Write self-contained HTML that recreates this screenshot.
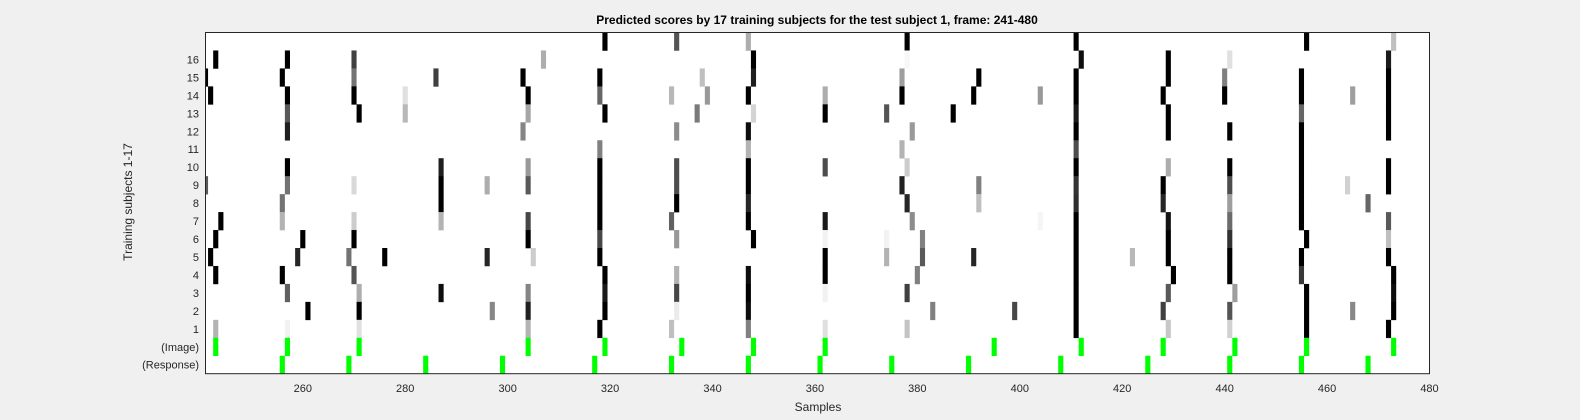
<!DOCTYPE html>
<html><head><meta charset="utf-8"><style>
body{margin:0;background:#f0f0f0;}
svg{display:block;font-family:"Liberation Sans",sans-serif;}
</style></head><body>
<svg id="chart" width="1580" height="420">
<rect width="1580" height="420" fill="#f0f0f0"/>
<text x="817" y="24" text-anchor="middle" font-size="12" font-weight="bold" fill="#000">Predicted scores by 17 training subjects for the test subject 1, frame: 241-480</text>
<rect x="205.5" y="32.5" width="1224" height="341.2" fill="#fff"/>
<g id="cells"></g>
<g id="axes"></g>
<rect x="205.5" y="32.5" width="1224" height="341.2" fill="none" stroke="#262626" stroke-width="1"/>
<text x="818" y="411" text-anchor="middle" font-size="12" fill="#262626">Samples</text>
<text transform="translate(132,202) rotate(-90)" text-anchor="middle" font-size="12" fill="#262626">Training subjects 1-17</text>
</svg>
<script>
const xTicks=[260,280,300,320,340,360,380,400,420,440,460,480];
const rowLabels=["1","2","3","4","5","6","7","8","9","10","11","12","13","14","15","16","(Image)","(Response)"];
// subject cells, one source line per subject row: row, sample, brightness (0=black,1=white)
const cellRows=[
17,17,17,17,17,17,17,
16,16,16,16,16,16,16,16,16,16,
15,15,15,15,15,15,15,15,15,15,15,15,15,15,15,
14,14,14,14,14,14,14,14,14,14,14,14,14,14,14,14,14,14,14,
13,13,13,13,13,13,13,13,13,13,13,13,13,13,
12,12,12,12,12,12,12,12,12,12,
11,11,11,11,11,
10,10,10,10,10,10,10,10,10,10,10,10,10,
9,9,9,9,9,9,9,9,9,9,9,9,9,9,9,9,9,
8,8,8,8,8,8,8,8,8,8,8,8,
7,7,7,7,7,7,7,7,7,7,7,7,7,7,7,7,
6,6,6,6,6,6,6,6,6,6,6,6,6,6,6,
5,5,5,5,5,5,5,5,5,5,5,5,5,5,5,5,5,
4,4,4,4,4,4,4,4,4,4,4,4,4,
3,3,3,3,3,3,3,3,3,3,3,3,3,3,
2,2,2,2,2,2,2,2,2,2,2,2,2,2,2,
1,1,1,1,1,1,1,1,1,1,1,1,1,1];
const cellSamples=[
319,333,347,378,411,456,473,
243,257,270,307,348,378,412,429,441,472,
241,256,270,286,303,318,338,348,377,392,411,429,440,455,472,
242,257,270,280,304,318,332,339,347,362,377,391,404,411,428,440,455,465,472,
257,271,280,304,319,337,348,362,374,387,411,429,455,472,
257,303,333,347,379,411,429,441,455,472,
318,347,377,411,455,
257,287,304,318,333,347,362,378,411,429,441,455,472,
241,257,270,287,296,304,318,333,347,377,392,411,428,441,455,464,472,
256,287,318,333,347,378,392,411,428,441,455,468,
244,256,270,287,304,318,332,347,362,379,404,411,429,441,455,472,
243,260,270,304,318,333,348,362,374,381,411,429,441,456,472,
242,259,269,276,296,305,318,362,374,381,391,411,422,429,441,455,472,
243,256,270,319,333,347,362,380,411,430,441,455,473,
257,271,287,304,319,333,347,362,378,411,429,442,456,473,
261,271,297,304,319,333,347,383,399,411,428,441,456,465,473,
243,257,271,304,318,332,347,362,378,411,429,441,456,472];
const cellValues=[
0,.33,.68,0,0,0,.75,
0,0,.25,.68,0,.97,.05,0,.88,.1,
0,0,.45,.25,0,0,.75,.12,.62,0,0,0,.5,0,0,
0,0,0,.88,0,.4,.72,.6,0,.68,0,0,.6,0,0,0,0,.62,0,
.35,0,.72,.65,0,.48,.83,0,.33,0,.1,0,.4,0,
.12,.52,.55,.05,.6,0,0,0,0,0,
.5,.7,.7,.3,0,
0,.12,.6,0,.3,0,.3,.8,0,.68,0,0,0,
.35,.45,.85,0,.68,.35,0,.3,0,.13,.5,.2,0,.3,0,.82,0,
.45,0,0,0,.15,.15,.75,.18,.15,.62,0,.4,
0,.7,.8,.7,.28,0,.38,0,.1,.55,.96,0,.08,.42,0,.35,
0,0,0,0,.28,.6,0,.95,.95,.5,0,0,.2,0,.75,
0,.15,.45,0,.15,.8,0,0,.7,.35,.15,0,.72,0,0,0,0,
0,0,.33,0,.7,.05,0,.5,0,0,0,.22,0,
.38,.68,.05,.52,.1,.28,0,.95,.25,0,.35,.62,0,.05,
0,0,.53,.13,0,.92,.05,.5,.28,0,.25,.33,0,.53,0,
.7,.95,.88,.7,0,.75,.5,.88,.77,0,.78,.82,0,0];
const imageSamples=[243,257,271,304,319,334,348,362,395,412,428,442,456,473];
const responseSamples=[256,269,284,299,317,332,347,361,375,390,408,425,441,455,468];

const NS="http://www.w3.org/2000/svg";
const x0=205.5,x1=1429.5,xMin=241,xMax=480,yTop=32.5,yBot=373.7,nRows=19;
const rowH=(yBot-yTop)/nRows;
function xScale(v){return x0+(v-xMin)*(x1-x0)/(xMax-xMin);}
function rowTop(r){return yTop+(17-r)*rowH;} // r=17 top; 0=image; -1=response
function mk(tag,attrs,parent){const e=document.createElementNS(NS,tag);for(const k in attrs)e.setAttribute(k,attrs[k]);parent.appendChild(e);return e;}
const cells=document.getElementById('cells');
function drawCell(r,s,fill){
  let a=Math.max(xScale(s-0.5),x0),b=Math.min(xScale(s+0.5),x1);
  return mk('rect',{x:a,y:rowTop(r),width:b-a,height:rowH+0.3,fill:fill},cells);
}
const n=Math.min(cellRows.length,cellSamples.length,cellValues.length);
for(let i=0;i<n;i++){
  const g=Math.round(255*cellValues[i]);
  const el=drawCell(cellRows[i],cellSamples[i],`rgb(${g},${g},${g})`);
  
  
}
imageSamples.forEach(s=>{const el=drawCell(0,s,'#00ff00');
  
  });
responseSamples.forEach(s=>{const el=drawCell(-1,s,'#00ff00');
  
  });
const axes=document.getElementById('axes');
xTicks.forEach(t=>{
  const x=xScale(t);
  const tx=mk('text',{x:x,y:392,'text-anchor':'middle','font-size':11,fill:'#262626'},axes);
  tx.textContent=t;
  
  
});
rowLabels.forEach((lab,i)=>{
  const r=i<16?i+1:(i===16?0:-1);
  const yc=rowTop(r)+rowH/2;
  const tx=mk('text',{x:199,y:yc+4,'text-anchor':'end','font-size':11,fill:'#262626'},axes);
  tx.textContent=lab;
  
  
});
</script>
</body></html>
